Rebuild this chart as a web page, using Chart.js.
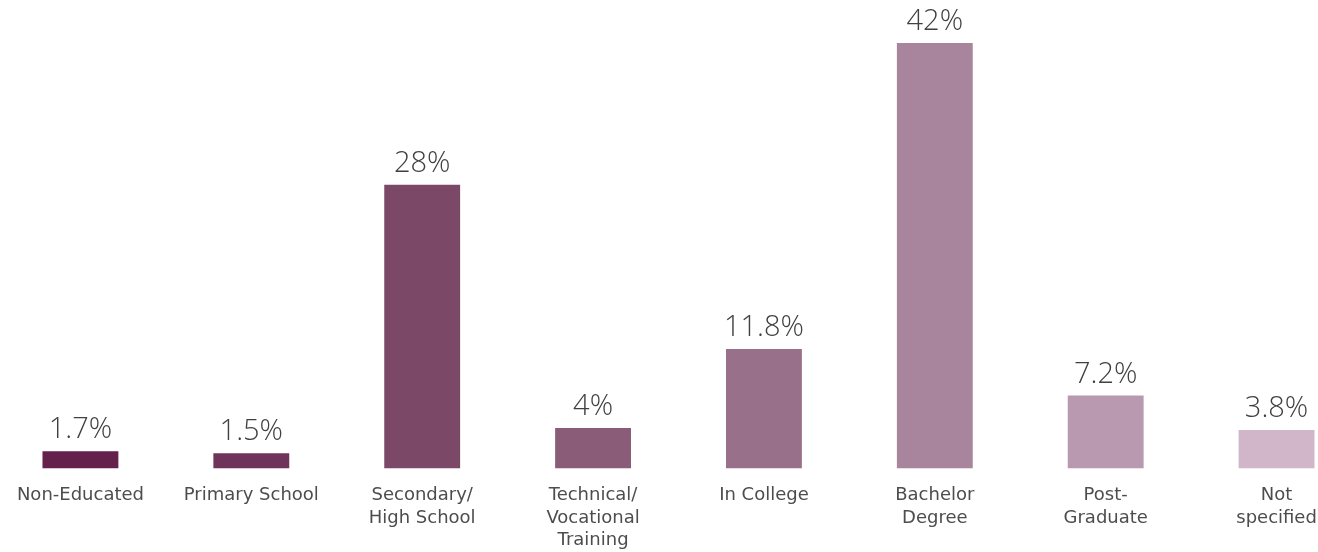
<!DOCTYPE html>
<html>
<head>
<meta charset="utf-8">
<script src="https://cdn.jsdelivr.net/npm/chart.js@4/dist/chart.umd.min.js"></script>
<style>
  html, body { margin: 0; padding: 0; background: #fff; overflow: hidden; }
  #wrap { position: absolute; left: -5px; top: 0; width: 1367px; height: 568px; }
</style>
</head>
<body>
<div id="wrap"><canvas id="eduChart"></canvas></div>
<script>
const categories = [
  "Non-Educated",
  "Primary School",
  ["Secondary/", "High School"],
  ["Technical/", "Vocational", "Training"],
  "In College",
  ["Bachelor", "Degree"],
  ["Post-", "Graduate"],
  ["Not", "specified"]
];
const shares = [1.7, 1.5, 28, 4, 11.8, 42, 7.2, 3.8];
const barColors = ["#63214c", "#6f3459", "#7b4967", "#8a5c78", "#987089", "#a8859c", "#b999af", "#d0b6c8"];

const labelFont = "'DejaVu Sans', sans-serif";
const valueFont = "'Open Sans', sans-serif";

// draw the % value above each bar
const valueLabels = {
  id: "valueLabels",
  afterDatasetsDraw(chart) {
    const ctx = chart.ctx;
    const meta = chart.getDatasetMeta(0);
    ctx.save();
    ctx.font = "300 29px " + valueFont;
    ctx.fillStyle = "#404040";
    ctx.textAlign = "center";
    ctx.textBaseline = "alphabetic";
    meta.data.forEach(function (bar, i) {
      ctx.fillText(shares[i] + "%", bar.x, bar.y - 13);
    });
    ctx.restore();
  }
};

let eduChart = new Chart(document.getElementById("eduChart"), {
  type: "bar",
  data: {
    labels: categories,
    datasets: [{
      data: shares,
      backgroundColor: barColors,
      barPercentage: 0.444,
      categoryPercentage: 1
    }]
  },
  options: {
    responsive: true,
    maintainAspectRatio: false,
    animation: false,
    layout: { padding: 0 },
    plugins: {
      legend: { display: false },
      tooltip: { enabled: false }
    },
    scales: {
      x: {
        grid: { display: false, drawTicks: false },
        border: { display: false },
        ticks: {
          color: "#4d4d4d",
          padding: 16,
          maxRotation: 0,
          autoSkip: false,
          font: { family: labelFont, size: 18, lineHeight: 1.25 }
        }
      },
      y: {
        display: false,
        min: 0,
        max: 46.25
      }
    }
  },
  plugins: [valueLabels]
});
</script>
</body>
</html>
